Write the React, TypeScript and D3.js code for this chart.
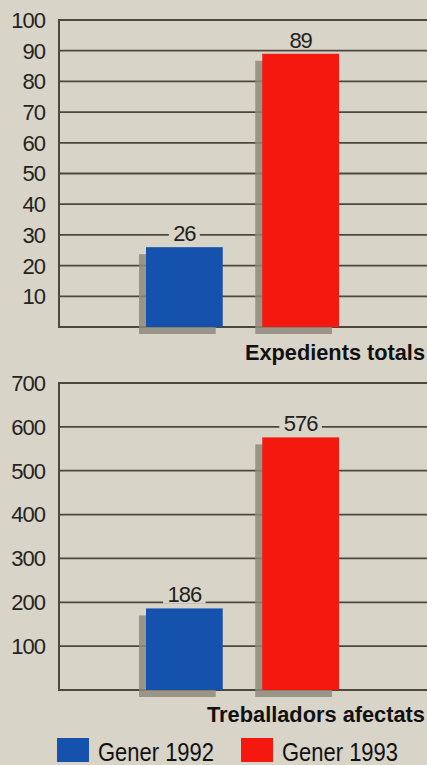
import * as d3 from 'd3';

// Data
const years = ['Gener 1992', 'Gener 1993'];
const colors = ['#1552ad', '#f5180f'];
const expedients = [26, 89];
const treballadors = [186, 576];
const expedientsTicks = [10, 20, 30, 40, 50, 60, 70, 80, 90, 100];
const treballadorsTicks = [100, 200, 300, 400, 500, 600, 700];

const W = 427;
const H = 765;
const BG = '#d8d4c8';
const LINE = '#4e483c';
const FONT = '"Liberation Sans", Arial, sans-serif';

type PanelProps = {
  values: number[];
  ticks: number[];
  max: number;
  top: number;
  bottom: number;
  title: string;
  titleY: number;
  titleWidth: number;
};

const Panel = ({ values, ticks, max, top, bottom, title, titleY, titleWidth }: PanelProps) => {
  const left = 59;
  const right = 427;
  const y = d3.scaleLinear().domain([0, max]).range([bottom, top]);
  const x = d3.scaleBand<string>().domain(years).range([146, 339]).paddingInner(0.34).paddingOuter(0);

  return (
    <g>
      {/* grid lines */}
      {ticks.map((t) => (
        <line key={t} x1={left} x2={right} y1={y(t)} y2={y(t)} stroke={LINE} strokeWidth={1.8} />
      ))}
      <line x1={left} x2={right} y1={y(0)} y2={y(0)} stroke={LINE} strokeWidth={2} />
      <line x1={left} x2={left} y1={y(max) - 1} y2={y(0) + 1} stroke={LINE} strokeWidth={2} />

      {/* tick labels */}
      {ticks.map((t) => (
        <text
          key={t}
          x={45}
          y={y(t)}
          dy="0.36em"
          textAnchor="end"
          fontSize={22}
          fontFamily={FONT}
          fill="#26231e"
          letterSpacing={-1}
        >
          {t}
        </text>
      ))}

      {/* bars with shadow */}
      {values.map((v, i) => {
        const bx = x(years[i]) ?? 0;
        const bw = x.bandwidth();
        return (
          <g key={years[i]}>
            <rect x={bx - 7} y={y(v) + 7} width={bw} height={y(0) - y(v)} fill="#8f8a7b" opacity={0.85} />
            <rect x={bx} y={y(v)} width={bw} height={y(0) - y(v)} fill={colors[i]} />
          </g>
        );
      })}

      {/* value labels */}
      {values.map((v, i) => {
        const cx = (x(years[i]) ?? 0) + x.bandwidth() / 2;
        const label = String(v);
        const tw = label.length * 11.5;
        return (
          <g key={'l' + i}>
            <rect x={cx - tw / 2 - 4} y={y(v) - 25} width={tw + 8} height={20} fill={BG} />
            <text
              x={cx}
              y={y(v) - 6}
              textAnchor="middle"
              fontSize={22}
              fontFamily={FONT}
              fill="#222"
              letterSpacing={-1}
            >
              {label}
            </text>
          </g>
        );
      })}

      <text
        x={425}
        y={titleY}
        textAnchor="end"
        fontSize={22}
        fontWeight="bold"
        fontFamily={FONT}
        fill="#111"
        textLength={titleWidth}
        lengthAdjust="spacingAndGlyphs"
      >
        {title}
      </text>
    </g>
  );
};

export default function App() {
  return (
    <div style={{ position: 'absolute', left: 0, top: 0 }}>
      <svg width={W} height={H} style={{ display: 'block' }}>
        <rect width={W} height={H} fill={BG} />
        <Panel
          values={expedients}
          ticks={expedientsTicks}
          max={100}
          top={20}
          bottom={327}
          title="Expedients totals"
          titleY={360}
          titleWidth={180}
        />
        <Panel
          values={treballadors}
          ticks={treballadorsTicks}
          max={700}
          top={383}
          bottom={690}
          title="Treballadors afectats"
          titleY={722}
          titleWidth={218}
        />
        {/* legend */}
        {years.map((name, i) => (
          <g key={name} transform={`translate(${i === 0 ? 57 : 241},0)`}>
            <rect x={0} y={738} width={32} height={24} fill={colors[i]} />
            <text
              x={41}
              y={761}
              fontSize={25}
              fontFamily={FONT}
              fill="#111"
              textLength={116}
              lengthAdjust="spacingAndGlyphs"
            >
              {name}
            </text>
          </g>
        ))}
      </svg>
    </div>
  );
}
